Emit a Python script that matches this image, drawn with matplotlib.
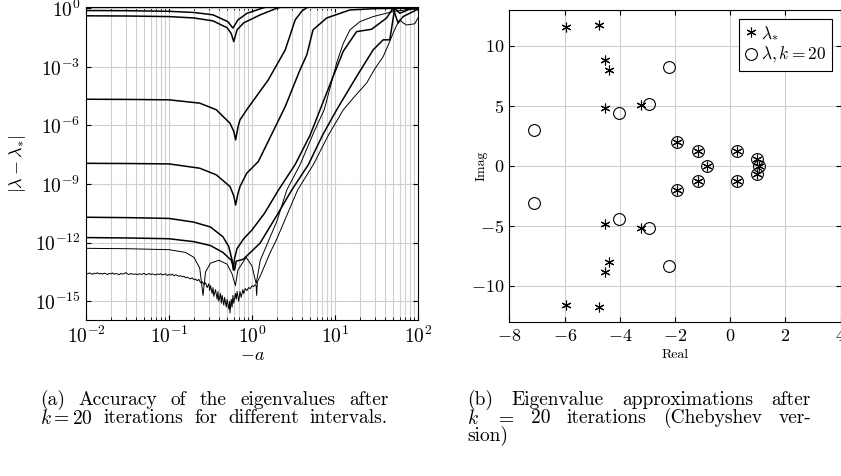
import numpy as np
import matplotlib
matplotlib.use('Agg')
import matplotlib.pyplot as plt
from matplotlib.ticker import NullLocator, LogFormatterMathtext, FixedLocator

plt.rcParams['font.family'] = 'serif'
plt.rcParams['font.serif'] = ['cmr10', 'DejaVu Serif']
plt.rcParams['mathtext.fontset'] = 'cm'
plt.rcParams['axes.formatter.use_mathtext'] = True

# ---- (a) accuracy curves, stored as (log10(-a), log10|lambda - lambda*|) pairs
curve1 = [(-2.0, -0.12), (-1.5, -0.13), (-1.0, -0.16), (-0.7, -0.22), (-0.47, -0.34), (-0.29, -0.69),
          (-0.23, -1.02), (-0.17, -0.6), (-0.06, -0.26), (0.18, 0.08), (0.3, 0.2)]
curve2 = [(-2.0, -0.39), (-1.5, -0.40), (-1.0, -0.43), (-0.7, -0.5), (-0.47, -0.65), (-0.3, -1.0),
          (-0.25, -1.3), (-0.22, -1.71), (-0.18, -1.11), (-0.1, -0.75), (0.1, -0.34), (0.3, 0.0), (0.4, 0.1)]
curve3 = [(-2.0, -4.66), (-1.5, -4.67), (-1.0, -4.69), (-0.63, -4.86), (-0.43, -5.2), (-0.265, -5.89),
          (-0.22, -6.3), (-0.197, -6.74), (-0.17, -6.1), (-0.145, -5.72), (-0.064, -5.2), (0.196, -3.67),
          (0.40, -2.14), (0.52, -0.6), (0.6, -0.15), (0.68, 0.08)]
curve4 = [(-2.0, -7.94), (-1.5, -7.95), (-1.0, -7.97), (-0.63, -8.19), (-0.43, -8.53), (-0.265, -9.13),
          (-0.22, -9.6), (-0.197, -10.07), (-0.17, -9.5), (-0.145, -9.13), (-0.064, -8.45), (0.076, -7.85),
          (0.40, -5.04), (0.578, -3.16), (0.66, -2.39), (0.735, -1.11), (0.90, -0.5), (1.18, -0.09),
          (1.5, -0.02), (2.0, 0.0)]
curve5 = [(-2.0, -10.70), (-1.5, -10.72), (-1.0, -10.76), (-0.7, -10.95), (-0.5, -11.2), (-0.35, -11.7),
          (-0.28, -12.2), (-0.24, -12.9), (-0.225, -13.4), (-0.21, -12.8), (-0.18, -12.3), (-0.1, -11.8),
          (0.0, -11.35), (0.15, -10.5), (0.32, -9.3), (0.52, -8.0), (0.70, -6.5), (0.82, -5.2),
          (0.975, -3.52), (1.10, -2.2), (1.26, -1.2), (1.44, -1.08), (1.62, -0.51), (1.70, 0.0),
          (1.76, -0.76), (1.82, -0.43), (1.98, -0.09), (2.0, -0.07)]
curve6 = [(-2.0, -11.74), (-1.5, -11.76), (-1.0, -11.8), (-0.7, -11.95), (-0.5, -12.15), (-0.35, -12.5),
          (-0.25, -12.9), (-0.21, -13.4), (-0.19, -12.95), (-0.105, -12.85), (0.096, -12.03), (0.3, -10.6),
          (0.48, -9.3), (0.68, -8.0), (0.85, -6.5), (1.02, -5.2), (1.26, -3.5), (1.46, -2.13),
          (1.58, -1.62), (1.66, -1.62), (1.72, 0.0), (1.78, -0.26), (1.9, -0.05), (2.0, -0.02)]
curve7 = [(-2.0, -12.29), (-1.5, -12.31), (-1.0, -12.36), (-0.8, -12.5), (-0.7, -12.75), (-0.63, -13.3),
          (-0.59, -14.7), (-0.56, -13.5), (-0.5, -13.05), (-0.4, -12.9), (-0.3, -13.1), (-0.24, -13.6),
          (-0.2, -14.2), (-0.17, -13.4), (-0.07, -12.75), (0.0, -13.2), (0.05, -14.1), (0.1, -12.9),
          (0.3, -10.9), (0.42, -9.3), (0.58, -8.0), (0.75, -6.3), (0.87, -5.2), (0.975, -3.52),
          (1.02, -2.8), (1.10, -1.8), (1.18, -1.11), (1.30, -0.69), (1.46, -0.43), (1.70, -0.17), (2.0, 0.0)]
curve8 = [(-2.00, -13.57), (-1.98, -13.60), (-1.96, -13.55), (-1.94, -13.58), (-1.92, -13.62), (-1.90, -13.56),
          (-1.88, -13.59), (-1.86, -13.54), (-1.84, -13.60), (-1.82, -13.57), (-1.80, -13.61), (-1.78, -13.56),
          (-1.76, -13.59), (-1.74, -13.63), (-1.72, -13.57), (-1.70, -13.60), (-1.68, -13.55), (-1.66, -13.62),
          (-1.64, -13.58), (-1.62, -13.60), (-1.60, -13.64), (-1.58, -13.57), (-1.56, -13.61), (-1.54, -13.59),
          (-1.52, -13.53), (-1.50, -13.60), (-1.48, -13.63), (-1.46, -13.58), (-1.44, -13.61), (-1.42, -13.62),
          (-1.40, -13.60), (-1.38, -13.64), (-1.36, -13.59), (-1.34, -13.62), (-1.32, -13.61), (-1.30, -13.57),
          (-1.28, -13.64), (-1.26, -13.62), (-1.24, -13.58), (-1.22, -13.63), (-1.20, -13.60), (-1.18, -13.62),
          (-1.16, -13.66), (-1.14, -13.60), (-1.12, -13.63), (-1.10, -13.59), (-1.08, -13.65), (-1.06, -13.62),
          (-1.04, -13.60), (-1.02, -13.68), (-1.00, -13.63), (-0.98, -13.66), (-0.96, -13.61), (-0.94, -13.70),
          (-0.92, -13.64), (-0.90, -13.68), (-0.88, -13.72), (-0.86, -13.69), (-0.84, -13.75), (-0.82, -13.72),
          (-0.80, -13.80), (-0.78, -13.76), (-0.76, -13.82), (-0.74, -13.85), (-0.72, -13.80), (-0.70, -13.90),
          (-0.68, -13.86), (-0.66, -13.95), (-0.64, -13.88), (-0.62, -14.05), (-0.60, -14.0), (-0.58, -14.15),
          (-0.56, -14.05), (-0.54, -14.3), (-0.52, -14.1), (-0.51, -14.45), (-0.50, -14.2), (-0.48, -14.6),
          (-0.47, -14.3), (-0.46, -14.75), (-0.44, -14.4), (-0.42, -14.9), (-0.41, -14.5), (-0.40, -15.0),
          (-0.38, -14.6), (-0.37, -15.1), (-0.36, -14.7), (-0.34, -15.2), (-0.33, -14.8), (-0.31, -15.3),
          (-0.30, -14.9), (-0.28, -15.4), (-0.27, -15.0), (-0.265, -15.6), (-0.25, -14.9), (-0.24, -15.3),
          (-0.23, -14.7), (-0.22, -15.1), (-0.20, -14.6), (-0.19, -14.9), (-0.18, -14.5), (-0.16, -15.0),
          (-0.145, -14.5), (-0.13, -14.8), (-0.11, -14.4), (-0.10, -14.6), (-0.08, -14.35), (-0.06, -14.45),
          (-0.04, -14.3), (-0.02, -14.35), (0.0, -14.2), (0.02, -14.25), (0.04, -14.15), (0.05, -14.2),
          (0.056, -14.7), (0.065, -14.0), (0.10, -13.7), (0.15, -13.2), (0.22, -12.5), (0.30, -11.8),
          (0.42, -10.6), (0.55, -9.3), (0.74, -8.0), (0.92, -6.5), (1.10, -5.2), (1.24, -4.5), (1.38, -3.84),
          (1.48, -3.1), (1.58, -2.48), (1.65, -1.8), (1.70, -1.28), (1.74, -0.9), (1.78, -0.6), (1.82, -0.75),
          (1.86, -0.86), (1.91, -0.83), (1.96, -0.8), (2.00, -0.5)]

thick_curves = [curve1, curve2, curve3, curve4, curve5, curve6]
thin_curves = [curve7, curve8]
y_tick_exp = [0, -3, -6, -9, -12, -15]

# ---- (b) eigenvalues in the complex plane
star_re = [-5.96, -5.96, -4.74, -4.74, -4.54, -4.54, -4.38, -4.38, -4.54, -4.54, -3.23, -3.23,
           -1.94, -1.94, -1.15, -1.15, -0.85, 0.26, 0.26, 0.98, 0.98, 1.05]
star_im = [11.6, -11.6, 11.75, -11.75, 8.83, -8.86, 8.0, -8.03, 4.8, -4.83, 5.06, -5.14,
           1.97, -1.97, 1.28, -1.28, 0.0, 1.28, -1.28, 0.61, -0.64, 0.0]
circ_re = [-7.1, -7.1, -2.2, -2.2, -4.03, -4.03, -2.94, -2.94,
           -1.94, -1.94, -1.15, -1.15, -0.85, 0.26, 0.26, 0.98, 0.98, 1.05]
circ_im = [3.0, -3.06, 8.28, -8.3, 4.39, -4.42, 5.14, -5.19,
           1.97, -1.97, 1.28, -1.28, 0.0, 1.28, -1.28, 0.61, -0.64, 0.0]

fig = plt.figure(figsize=(8.41, 4.76), dpi=100)
grid_col = '#cfcfcf'
tick_fs = 14

# left panel
ax1 = fig.add_axes([86/841, 1-320/476, 332/841, 313/476])
for c in thick_curves:
    lx, ly = zip(*c)
    ax1.plot(10.0**np.array(lx), 10.0**np.array(ly), color='black', lw=1.1)
for c in thin_curves:
    lx, ly = zip(*c)
    ax1.plot(10.0**np.array(lx), 10.0**np.array(ly), color='black', lw=0.7)
ax1.set_xscale('log')
ax1.set_yscale('log')
ax1.set_xlim(1e-2, 1e2)
ax1.set_ylim(1.1e-16, 1.15)
ax1.yaxis.set_major_locator(FixedLocator([10.0**e for e in y_tick_exp]))
ax1.yaxis.set_major_formatter(LogFormatterMathtext())
ax1.yaxis.set_minor_locator(NullLocator())
ax1.set_axisbelow(True)
ax1.grid(which='major', color=grid_col, lw=0.8)
ax1.grid(which='minor', axis='x', color=grid_col, lw=0.8)
ax1.tick_params(which='both', direction='in', top=True, right=True, labelsize=tick_fs, pad=4)
ax1.set_xlabel(r'$-a$', fontsize=13)
ax1.xaxis.set_label_coords(0.5, -0.09)
ax1.set_ylabel(r'$|\lambda-\lambda_{*}|$', fontsize=13, labelpad=5)

# right panel
ax2 = fig.add_axes([509.5/841, 1-322/476, 331/841, 312/476])
ax2.plot(star_re, star_im, ls='none', marker=(6, 2, 0), ms=7, mew=0.8, color='black', label=r'$\lambda_{*}$')
ax2.plot(circ_re, circ_im, ls='none', marker='o', ms=8.5, mew=0.8, mfc='none', mec='black',
         label=r'$\lambda, k=20$')
ax2.set_xlim(-8, 4)
ax2.set_ylim(-13, 13)
ax2.set_xticks([-8, -6, -4, -2, 0, 2, 4])
ax2.set_yticks([-10, -5, 0, 5, 10])
ax2.set_axisbelow(True)
ax2.grid(color=grid_col, lw=0.8)
ax2.tick_params(direction='in', top=True, right=True, labelsize=13, pad=4)
ax2.set_xlabel('Real', fontsize=10)
ax2.xaxis.set_label_coords(0.5, -0.085)
ax2.set_ylabel('Imag', fontsize=10)
ax2.yaxis.set_label_coords(-0.065, 0.5)
leg = ax2.legend(loc='upper right', fontsize=12.5, fancybox=False, framealpha=1, edgecolor='black',
                 handlelength=0.8, handletextpad=0.2, borderpad=0.3, labelspacing=0.2, borderaxespad=0.5)
leg.get_frame().set_linewidth(0.8)

# captions
fs = 14
renderer = fig.canvas.get_renderer()


def justified(words, x0, x1, y):
    # place words so the line fills x0..x1 (pixels), like a justified LaTeX line
    texts = [fig.text(0, 1-y/476, w, fontsize=fs, va='center', ha='left') for w in words]
    widths = [t.get_window_extent(renderer).width for t in texts]
    gap = (x1 - x0 - sum(widths)) / (len(words) - 1)
    x = x0
    for t, w in zip(texts, widths):
        t.set_x(x/841)
        x += w + gap


justified(['(a)', 'Accuracy', 'of', 'the', 'eigenvalues', 'after'], 40, 388, 400)
justified([r'$k=20$', 'iterations', 'for', 'different', 'intervals.'], 40, 388, 418)
justified(['(b)', 'Eigenvalue', 'approximations', 'after'], 467, 811, 400)
justified([r'$k$', r'$=$', '20', 'iterations', '(Chebyshev', 'ver-'], 467, 811, 418)
fig.text(467/841, 1-436/476, 'sion)', fontsize=fs, va='center', ha='left')

fig.savefig('out.png', dpi=100)
